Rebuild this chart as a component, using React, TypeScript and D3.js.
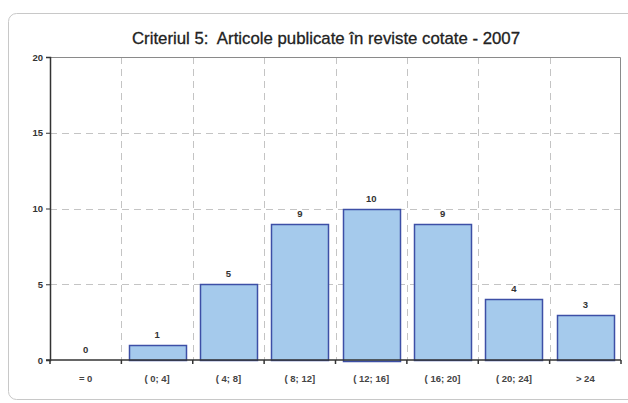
import React, { useEffect, useRef } from "react";
import * as d3 from "d3";

// data
const categories = ["= 0", "( 0; 4]", "( 4; 8]", "( 8; 12]", "( 12; 16]", "( 16; 20]", "( 20; 24]", "> 24"];
const values = [0, 1, 5, 9, 10, 9, 4, 3];
const yTicks = [0, 5, 10, 15, 20];
const title = "Criteriul 5:  Articole publicate în reviste cotate - 2007";

const W = 628;
const H = 403;

export default function App() {
  const ref = useRef<SVGSVGElement>(null);

  useEffect(() => {
    const svg = d3.select(ref.current);
    svg.selectAll("*").remove();

    const margin = { top: 57, right: 7, bottom: 43, left: 50 };
    const w = W - margin.left - margin.right;
    const h = H - margin.top - margin.bottom;

    // outer frame
    svg.append("rect")
      .attr("x", 8.5).attr("y", 13.5)
      .attr("width", 630).attr("height", 386)
      .attr("rx", 8)
      .attr("fill", "#fff")
      .attr("stroke", "#c8c8c8");

    svg.append("text")
      .attr("x", 326).attr("y", 44)
      .attr("text-anchor", "middle")
      .attr("font-family", "Arial, sans-serif")
      .attr("font-size", 17)
      .attr("textLength", 388)
      .attr("lengthAdjust", "spacingAndGlyphs")
      .attr("fill", "#222")
      .attr("stroke", "#222")
      .attr("stroke-width", 0.3)
      .style("white-space", "pre")
      .text(title);

    const g = svg.append("g").attr("transform", `translate(${margin.left},${margin.top})`);

    const x = d3.scaleBand().domain(categories).range([0, w]).paddingInner(0.2).paddingOuter(0.1);
    const y = d3.scaleLinear().domain([0, 20]).range([h, 0]);
    const step = x.step();

    // horizontal dashed grid
    g.selectAll(".hgrid").data(yTicks.filter(t => t > 0 && t < 20)).join("line")
      .attr("x1", 0).attr("x2", w)
      .attr("y1", d => Math.round(y(d)) + 0.5).attr("y2", d => Math.round(y(d)) + 0.5)
      .attr("stroke", "#c4c4c4").attr("stroke-dasharray", "7,5");

    // vertical dashed grid at category boundaries
    g.selectAll(".vgrid").data(d3.range(1, categories.length)).join("line")
      .attr("x1", d => Math.round(d * step) + 0.5).attr("x2", d => Math.round(d * step) + 0.5)
      .attr("y1", 0).attr("y2", h)
      .attr("stroke", "#c4c4c4").attr("stroke-dasharray", "7,5");

    // top and right border
    g.append("path")
      .attr("d", `M0,0.5H${w - 0.5}V${h}`)
      .attr("fill", "none").attr("stroke", "#8a8a8a");

    // bars
    g.selectAll(".bar").data(values).join("rect")
      .attr("x", (d, i) => Math.round(x(categories[i])!) + 0.5)
      .attr("y", d => Math.round(y(d)) + 0.5)
      .attr("width", Math.round(x.bandwidth()))
      .attr("height", d => Math.max(0, Math.round(h - y(d))))
      .attr("fill", "#a5caec")
      .attr("stroke", "#3d4fa6")
      .attr("stroke-width", 1.5)
      .style("display", d => (d > 0 ? null : "none"));

    // value labels
    g.selectAll(".val").data(values).join("text")
      .attr("x", (d, i) => x(categories[i])! + x.bandwidth() / 2)
      .attr("y", d => y(d) - 7)
      .attr("text-anchor", "middle")
      .attr("font-family", "Arial, sans-serif").attr("font-size", 9.5).attr("font-weight", "bold")
      .attr("fill", "#333")
      .text(d => d);

    // y axis
    const yAxis = g.append("g").call(d3.axisLeft(y).tickValues(yTicks).tickSize(4).tickPadding(3));
    yAxis.select(".domain").attr("stroke", "#333").attr("stroke-width", 1.5);
    yAxis.selectAll(".tick line").attr("stroke", "#333");
    yAxis.selectAll("text")
      .attr("font-family", "Arial, sans-serif").attr("font-size", 9.5).attr("font-weight", "bold").attr("fill", "#333");

    // x axis
    const xAxisG = g.append("g").attr("transform", `translate(0,${h})`);
    xAxisG.append("line").attr("x1", -4).attr("x2", w).attr("y1", 0).attr("y2", 0)
      .attr("stroke", "#333").attr("stroke-width", 1.5);
    xAxisG.selectAll(".xt").data(d3.range(0, categories.length + 1)).join("line")
      .attr("x1", d => d * step).attr("x2", d => d * step)
      .attr("y1", 0).attr("y2", 4)
      .attr("stroke", "#333").attr("stroke-width", 1.5);
    xAxisG.selectAll(".xl").data(categories).join("text")
      .attr("x", d => x(d)! + x.bandwidth() / 2)
      .attr("y", 22)
      .attr("text-anchor", "middle")
      .attr("font-family", "Arial, sans-serif").attr("font-size", 9.5).attr("font-weight", "bold")
      .attr("fill", "#444")
      .text(d => d);
  }, []);

  return (
    <svg ref={ref} width={W} height={H} style={{ position: "absolute", left: 0, top: 0 }} />
  );
}
